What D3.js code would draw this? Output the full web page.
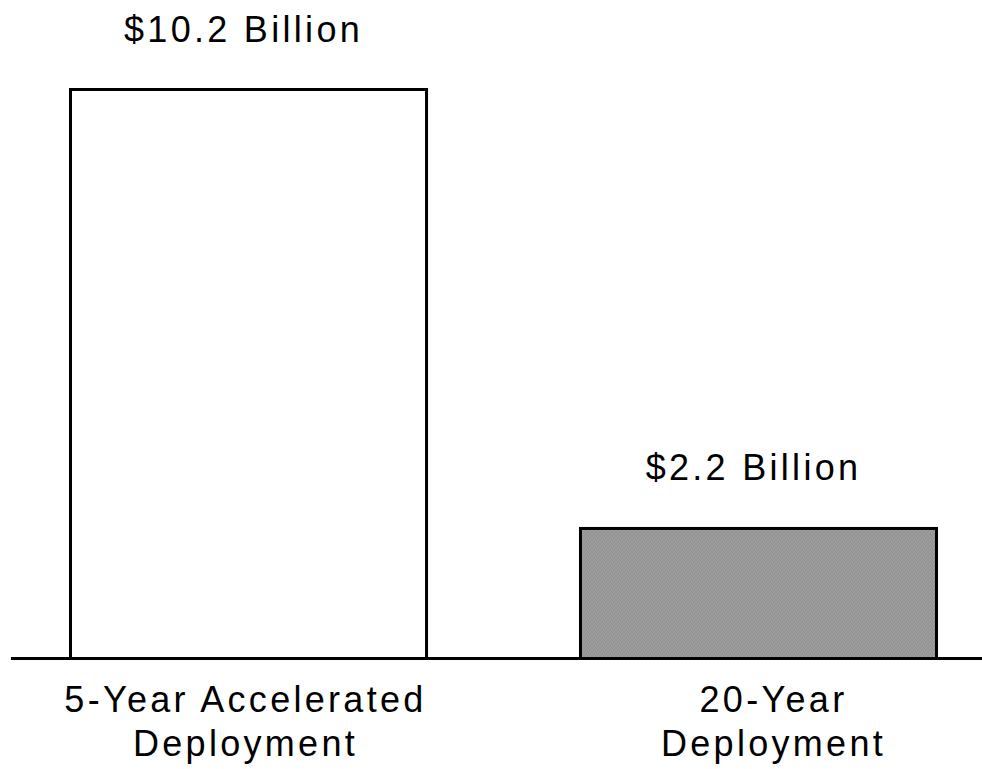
<!DOCTYPE html>
<html>
<head>
<meta charset="utf-8">
<script src="https://cdn.jsdelivr.net/npm/d3@7"></script>
<style>
  html, body { margin: 0; padding: 0; background: #fff; }
  svg { display: block; }
  text { font-family: "Liberation Sans", Arial, sans-serif; font-size: 36px; letter-spacing: 3.3px; fill: #000; }
</style>
</head>
<body>
<svg id="chart" width="982" height="769"></svg>
<script>
// Data
const categories = ["5-Year Accelerated Deployment", "20-Year Deployment"];
const categoryLines = [["5-Year Accelerated", "Deployment"], ["20-Year", "Deployment"]];
const values = [10.2, 2.2];            // billions of dollars
const valueLabels = ["$10.2 Billion", "$2.2 Billion"];

// Layout
const W = 982, H = 769;
const baseY = 658.5;
const svg = d3.select("#chart");

const x = d3.scaleBand()
  .domain(categories)
  .range([69, 938])
  .paddingInner(0.296)
  .paddingOuter(0);

// The original chart's baseline sits slightly below the value zero
const y = d3.scaleLinear()
  .domain([0, 10.2])
  .range([649.2, 89.5]);

const fills = ["#ffffff", "#989898"];
const catDx = [-3, 15];

// Dither-like pattern for gray bar
const defs = svg.append("defs");
const pat = defs.append("pattern")
  .attr("id", "dither")
  .attr("width", 4).attr("height", 4)
  .attr("patternUnits", "userSpaceOnUse");
pat.append("rect").attr("width", 4).attr("height", 4).attr("fill", "#9a9a9a");
[[0,0],[2,1],[1,2],[3,3]].forEach(([a,b]) =>
  pat.append("rect").attr("x", a).attr("y", b).attr("width", 1).attr("height", 1).attr("fill", "#8e8e8e"));
[[1,0],[3,2]].forEach(([a,b]) =>
  pat.append("rect").attr("x", a).attr("y", b).attr("width", 1).attr("height", 1).attr("fill", "#a3a3a3"));

// Bars
svg.selectAll("rect.bar")
  .data(values)
  .join("rect")
  .attr("class", "bar")
  .attr("x", (d, i) => x(categories[i]) + 1.5)
  .attr("y", d => y(d))
  .attr("width", x.bandwidth() - 3)
  .attr("height", d => baseY - y(d))
  .attr("fill", (d, i) => i === 1 ? "url(#dither)" : fills[i])
  .attr("stroke", "#000")
  .attr("stroke-width", 3);

// Baseline
svg.append("line")
  .attr("x1", 11).attr("x2", W)
  .attr("y1", baseY).attr("y2", baseY)
  .attr("stroke", "#000")
  .attr("stroke-width", 3);

// Value labels
svg.selectAll("text.val")
  .data(values)
  .join("text")
  .attr("class", "val")
  .attr("text-anchor", "middle")
  .attr("x", (d, i) => x(categories[i]) + x.bandwidth() / 2 - 5)
  .attr("y", d => y(d) - 48)
  .text((d, i) => valueLabels[i]);

// Category labels
categories.forEach((c, i) => {
  const t = svg.append("text")
    .attr("text-anchor", "middle")
    .attr("x", x(c) + x.bandwidth() / 2 + catDx[i])
    .attr("y", 712);
  categoryLines[i].forEach((line, j) => {
    t.append("tspan")
      .attr("x", x(c) + x.bandwidth() / 2 + catDx[i])
      .attr("dy", j === 0 ? 0 : 44)
      .text(line);
  });
});
</script>
</body>
</html>
